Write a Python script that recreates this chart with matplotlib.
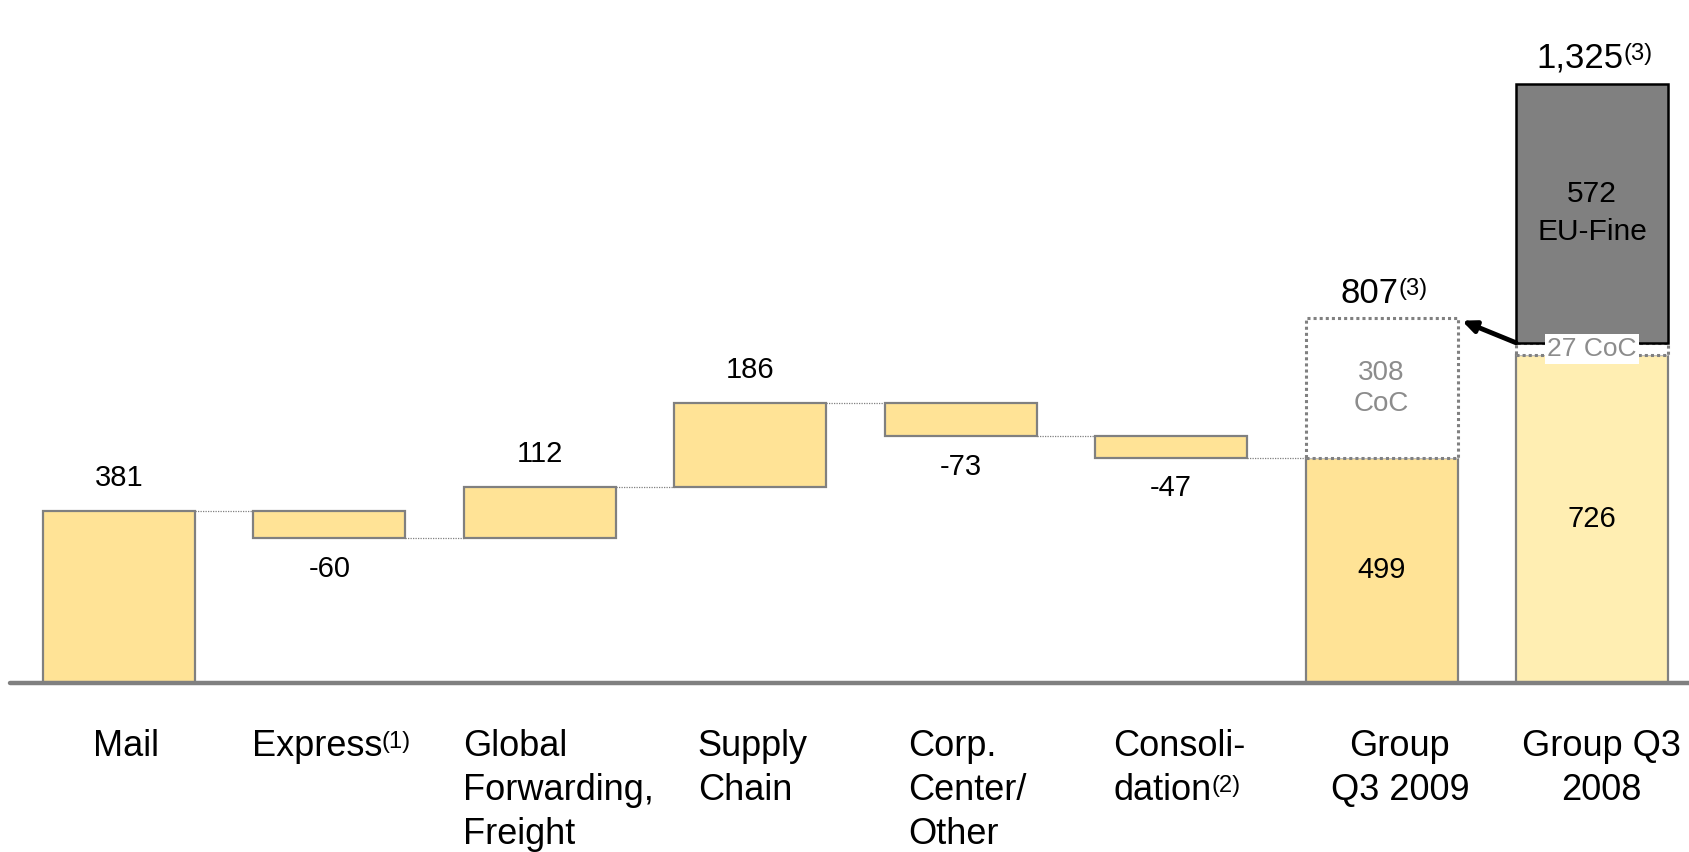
import matplotlib
matplotlib.use("Agg")
import matplotlib.pyplot as plt
import numpy as np

plt.rcParams['font.family'] = ['Liberation Sans', 'DejaVu Sans']

# EBIT bridge, EUR m
categories = [["Mail"], ["Express"], ["Global", "Forwarding,", "Freight"], ["Supply", "Chain"],
              ["Corp.", "Center/", "Other"], ["Consoli-", "dation"], ["Group", "Q3 2009"],
              ["Group Q3", "2008"]]
footnotes = ["", "(1)", "", "", "", "(2)", "", ""]
steps = [381, -60, 112, 186, -73, -47]
total_2009 = 499
coc_2009 = 308
base_2008 = 726
coc_2008 = 27
fine_2008 = 572
label_2009 = "807"
label_2008 = "1,325"

yellow = "#ffe396"
light_yellow = "#ffeeb2"
edge = "#808080"
dark = "#808080"
coc_grey = "#8c8c8c"

fig = plt.figure(figsize=(16.89, 8.52), dpi=100)
ax = fig.add_axes([0, 0.198, 1, 0.802])
ax.set_xlim(-0.5655, 7.461)
ax.set_ylim(0, 1511)
ax.axis("off")

w = 0.722
x = np.arange(len(categories))


def sup(artist, s, size, dy=-1):
    # small raised footnote marker right after a text artist
    ax.annotate(s, xy=(1, 1), xycoords=artist, xytext=(0, dy), textcoords="offset points",
                ha="left", va="top", fontsize=size, annotation_clip=False)


# waterfall steps
level = 0
tops = []
for i, v in enumerate(steps):
    bottom = level if v >= 0 else level + v
    ax.bar(x[i], abs(v), bottom=bottom, width=w, color=yellow, edgecolor=edge, linewidth=1.6, zorder=2)
    level += v
    tops.append(level)
    dy = 24 if v >= 0 else -22
    ax.annotate(str(v), (x[i], level), xytext=(0, dy), textcoords="offset points",
                ha="center", va="center", fontsize=21)

# dotted connectors
for i, lv in enumerate(tops):
    ax.plot([x[i] + w / 2, x[i + 1] - w / 2], [lv, lv], color=edge, lw=0.9, ls=(0, (1, 1)), zorder=1)

# Group Q3 2009
g9 = x[6]
ax.bar(g9, total_2009, width=w, color=yellow, edgecolor=edge, linewidth=1.6, zorder=2)
ax.bar(g9, coc_2009, bottom=total_2009, width=w, color="white", edgecolor=edge,
       linewidth=2.2, linestyle=(0, (1, 1)), zorder=2)
ax.text(g9, total_2009 / 2, str(total_2009), ha="center", va="center", fontsize=21)
ax.text(g9, total_2009 + coc_2009 / 2, f"{coc_2009}\nCoC", ha="center", va="center",
        fontsize=20, color=coc_grey, linespacing=1.25)
t = ax.annotate(label_2009, (g9, total_2009 + coc_2009), xytext=(-9, 18), textcoords="offset points",
                ha="center", va="center", fontsize=25)
sup(t, "(3)", 17)

# Group Q3 2008
g8 = x[7]
ax.bar(g8, base_2008, width=w, color=light_yellow, edgecolor=edge, linewidth=1.6, zorder=2)
ax.bar(g8, coc_2008, bottom=base_2008, width=w, color="white", edgecolor=edge,
       linewidth=2.2, linestyle=(0, (1, 1)), zorder=2)
ax.bar(g8, fine_2008, bottom=base_2008 + coc_2008, width=w, color=dark, edgecolor="black",
       linewidth=1.8, zorder=3)
ax.text(g8, base_2008 / 2, str(base_2008), ha="center", va="center", fontsize=21)
ax.text(g8, base_2008 + coc_2008 / 2, f"{coc_2008} CoC", ha="center", va="center",
        fontsize=19, color=coc_grey, zorder=4,
        bbox=dict(boxstyle="square,pad=0.1", fc="white", ec="none"))
ax.text(g8, base_2008 + coc_2008 + fine_2008 / 2, f"{fine_2008}\nEU-Fine", ha="center",
        va="center", fontsize=21.5, linespacing=1.45, zorder=4)
t = ax.annotate(label_2008, (g8, base_2008 + coc_2008 + fine_2008), xytext=(-9, 19),
                textcoords="offset points", ha="center", va="center", fontsize=25)
sup(t, "(3)", 17)

# arrow from 2008 CoC to 2009 total
ax.annotate("", xy=(g9 + w / 2 + 0.02, total_2009 + coc_2009 - 5),
            xytext=(g8 - w / 2, base_2008 + coc_2008),
            arrowprops=dict(arrowstyle="-|>,head_length=0.8,head_width=0.35", color="black",
                            lw=3.5, shrinkA=0, shrinkB=0), zorder=5)

# baseline
ax.plot([-0.518, 7.461], [0, 0], color=edge, lw=3.2, solid_capstyle="round", zorder=4, clip_on=False)

# category labels, one text per line
offsets = [0.035, -0.37, -0.363, -0.25, -0.25, -0.276, 0.087, 0.046]
aligns = ["center", "left", "left", "left", "left", "left", "center", "center"]
first_line = -52   # points below the baseline
line_step = 31.7
for i, lines in enumerate(categories):
    for k, line in enumerate(lines):
        t = ax.annotate(line, (x[i] + offsets[i], 0), xytext=(0, first_line - k * line_step),
                        textcoords="offset points", ha=aligns[i], va="baseline",
                        fontsize=26, annotation_clip=False)
    if footnotes[i]:
        sup(t, footnotes[i], 17, dy=-2)

fig.savefig("out.png", dpi=100)
